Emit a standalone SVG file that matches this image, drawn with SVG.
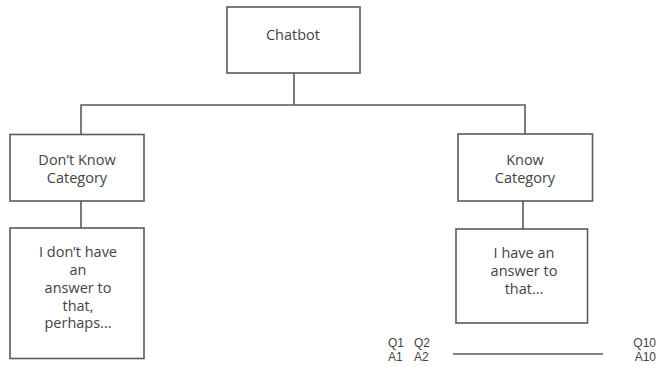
<svg xmlns="http://www.w3.org/2000/svg" width="659" height="370" viewBox="0 0 659 370">
  <style>
    .box { fill: #ffffff; stroke: #5a5a5a; stroke-width: 1.6; }
    .wire { fill: none; stroke: #5a5a5a; stroke-width: 1.6; }
    .lbl { font-family: "Open Sans", "Noto Sans", sans-serif; font-size: 14.5px; fill: #444444; text-anchor: middle; }
    .qa { font-family: "Liberation Sans", "DejaVu Sans", sans-serif; font-size: 12px; fill: #444444; }
  </style>
  <rect width="659" height="370" fill="#ffffff"/>

  <g id="connectors">
    <line class="wire" x1="294" y1="73" x2="294" y2="105"/>
    <polyline class="wire" points="81,134 81,105 525,105 525,134"/>
    <line class="wire" x1="81" y1="201" x2="81" y2="228"/>
    <line class="wire" x1="523" y1="201" x2="523" y2="229"/>
    <line class="wire" x1="453" y1="354" x2="603" y2="354"/>
  </g>

  <g id="chatbot">
    <rect class="box" x="227" y="7" width="133" height="66"/>
    <text class="lbl" x="293" y="40">Chatbot</text>
  </g>

  <g id="dont-know-category">
    <rect class="box" x="10" y="134.5" width="134" height="66.5"/>
    <text class="lbl" x="77" y="165">Don’t Know</text>
    <text class="lbl" x="77" y="183">Category</text>
  </g>

  <g id="know-category">
    <rect class="box" x="458" y="134" width="134.5" height="67"/>
    <text class="lbl" x="525" y="165">Know</text>
    <text class="lbl" x="525" y="183">Category</text>
  </g>

  <g id="dont-know-answer">
    <rect class="box" x="10" y="228" width="134" height="130.5"/>
    <text class="lbl" x="78" y="257">I don’t have</text>
    <text class="lbl" x="78" y="275">an</text>
    <text class="lbl" x="78" y="293">answer to</text>
    <text class="lbl" x="78" y="310.5">that,</text>
    <text class="lbl" x="78" y="328">perhaps...</text>
  </g>

  <g id="know-answer">
    <rect class="box" x="456" y="229" width="131.5" height="94"/>
    <text class="lbl" x="524" y="258">I have an</text>
    <text class="lbl" x="524" y="276">answer to</text>
    <text class="lbl" x="524" y="294">that...</text>
  </g>

  <g id="qa-pairs">
    <text class="qa" x="388" y="347">Q1</text>
    <text class="qa" x="414" y="347">Q2</text>
    <text class="qa" x="388" y="360.5">A1</text>
    <text class="qa" x="414" y="360.5">A2</text>
    <text class="qa" x="656" y="347" text-anchor="end">Q10</text>
    <text class="qa" x="656" y="360.5" text-anchor="end">A10</text>
  </g>
</svg>
